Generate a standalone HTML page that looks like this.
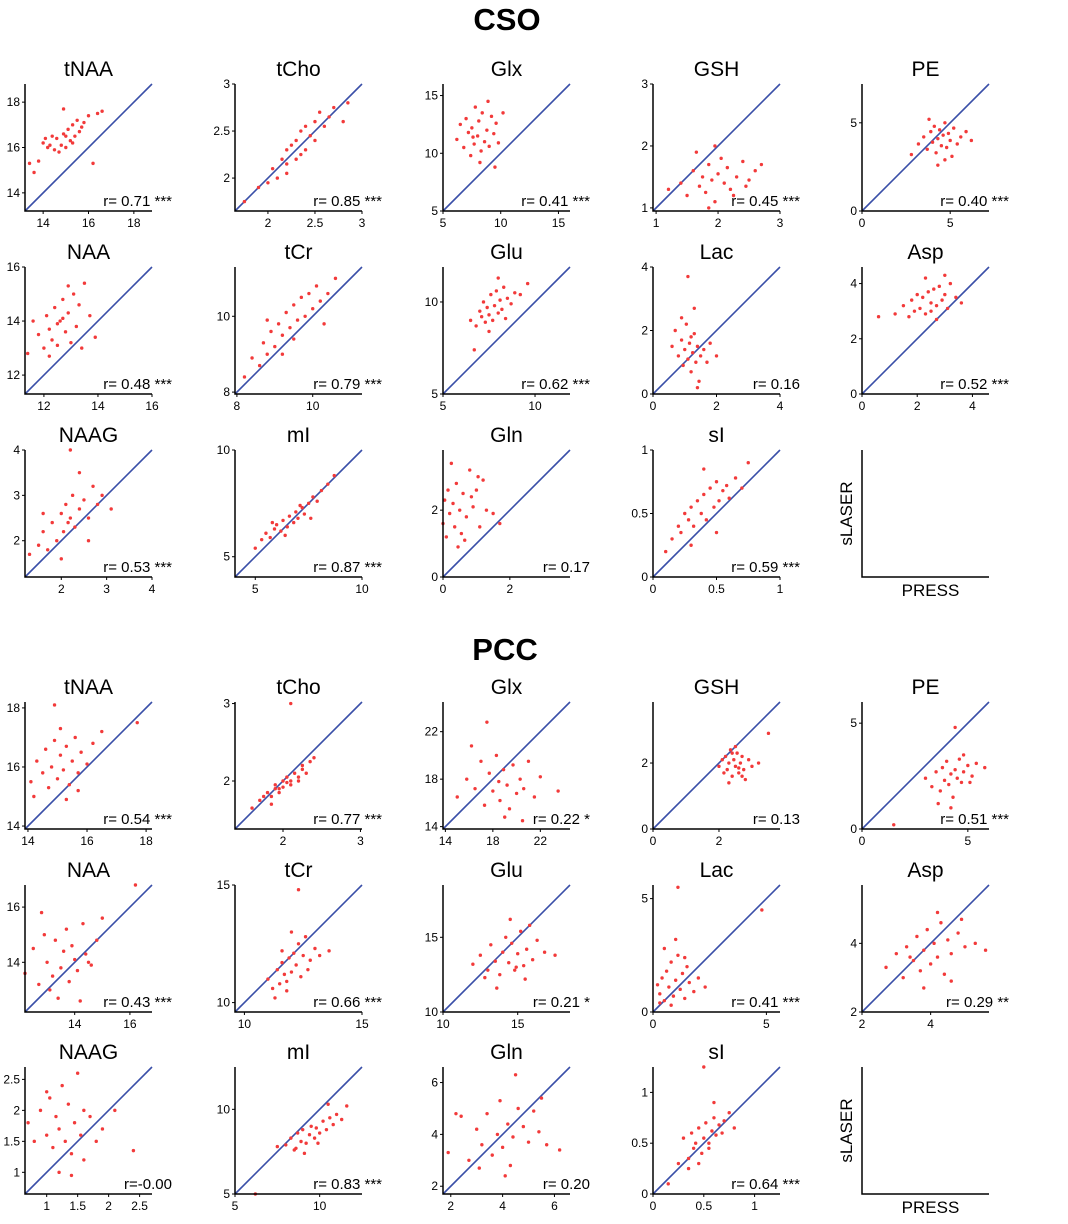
<!DOCTYPE html>
<html><head><meta charset="utf-8"><style>
html,body{margin:0;padding:0;background:#fff;}
svg{display:block;font-family:"Liberation Sans",Arial,sans-serif;}
</style></head><body>
<svg id="fig" width="1068" height="1224" viewBox="0 0 1068 1224">
<text x="507" y="30" text-anchor="middle" font-size="31" font-weight="bold">CSO</text>
<text x="505" y="660" text-anchor="middle" font-size="31" font-weight="bold">PCC</text>
</svg>
<script>
const names = ["tNAA","tCho","Glx","GSH","PE","NAA","tCr","Glu","Lac","Asp","NAAG","mI","Gln","sI",
"tNAA","tCho","Glx","GSH","PE","NAA","tCr","Glu","Lac","Asp","NAAG","mI","Gln","sI"];
const lims = [[13.2,18.8],[1.65,3],[5,16],[0.95,3],[0,7.2],[11.3,16],[7.95,11.3],[5,11.9],[0,4],[0,4.6],[1.2,4],[4.05,10],[0,3.8],[0,1],
[13.9,18.2],[1.38,3.02],[13.8,24.5],[0,3.85],[0,6],[12.2,16.8],[9.6,15],[10,18.5],[0,5.6],[2,5.7],[0.65,2.7],[5,12.5],[1.7,6.6],[0,1.25]];
const ticks = [[14,16,18],[2,2.5,3],[5,10,15],[1,2,3],[0,5],[12,14,16],[8,10],[5,10],[0,2,4],[0,2,4],[2,3,4],[5,10],[0,2],[0,0.5,1],
[14,16,18],[2,3],[14,18,22],[0,2],[0,5],[14,16],[10,15],[10,15],[0,5],[2,4],[1,1.5,2,2.5],[5,10],[2,4,6],[0,0.5,1]];
const rtexts = ["r= 0.71 ***","r= 0.85 ***","r= 0.41 ***","r= 0.45 ***","r= 0.40 ***","r= 0.48 ***","r= 0.79 ***","r= 0.62 ***","r= 0.16","r= 0.52 ***","r= 0.53 ***","r= 0.87 ***","r= 0.17","r= 0.59 ***",
"r= 0.54 ***","r= 0.77 ***","r= 0.22 *","r= 0.13","r= 0.51 ***","r= 0.43 ***","r= 0.66 ***","r= 0.21 *","r= 0.41 ***","r= 0.29 **","r=-0.00","r= 0.83 ***","r= 0.20","r= 0.64 ***"];
const xs = [
[13.4,13.8,14.0,14.2,14.4,14.5,14.6,14.8,14.9,15.0,15.1,15.2,15.3,15.4,15.5,15.6,15.8,16.0,16.2,14.7,15.0,14.3,13.6,15.7,16.4,14.9,15.3,16.6,14.1],
[1.75,1.9,2.0,2.05,2.1,2.15,2.2,2.2,2.25,2.3,2.3,2.35,2.4,2.4,2.45,2.5,2.5,2.55,2.6,2.65,2.7,2.8,2.85,2.2,2.35],
[6.2,6.5,6.8,7.0,7.2,7.4,7.5,7.7,7.8,8.0,8.1,8.3,8.4,8.6,8.8,9.0,9.2,9.4,9.6,9.8,10.2,8.2,7.6,8.9,9.5],
[1.2,1.4,1.5,1.6,1.7,1.75,1.8,1.85,1.9,1.95,2.0,2.05,2.1,2.15,2.2,2.3,2.4,2.5,2.6,2.7,1.65,1.95,2.25,2.45,1.85],
[2.8,3.2,3.5,3.7,3.9,4.0,4.1,4.2,4.3,4.4,4.5,4.6,4.7,4.8,4.9,5.0,5.2,5.4,5.6,5.9,6.2,4.3,4.7,3.8,5.1],
[11.4,11.8,12.0,12.1,12.2,12.3,12.4,12.5,12.5,12.6,12.7,12.8,12.9,13.0,13.1,13.2,13.3,13.5,13.7,13.9,12.2,12.9,11.6,13.4,12.7],
[8.2,8.4,8.6,8.7,8.8,8.9,9.0,9.1,9.2,9.3,9.4,9.5,9.6,9.7,9.8,9.9,10.0,10.1,10.2,10.4,10.6,9.2,9.5,8.8,10.3],
[6.5,6.8,7.0,7.1,7.2,7.3,7.4,7.5,7.6,7.7,7.8,7.9,8.0,8.1,8.2,8.3,8.5,8.7,8.9,9.2,9.6,7.5,8.0,6.7,8.4],
[0.6,0.7,0.8,0.9,0.95,1.0,1.05,1.1,1.15,1.2,1.25,1.3,1.35,1.4,1.45,1.5,1.6,1.7,1.8,2.0,1.1,1.3,0.9,1.4,1.2],
[1.2,1.5,1.7,1.8,1.9,2.0,2.1,2.2,2.3,2.4,2.5,2.6,2.7,2.8,2.9,3.0,3.1,3.2,3.4,3.6,2.3,2.7,0.6,2.5,3.0],
[1.3,1.5,1.6,1.7,1.8,1.9,2.0,2.05,2.1,2.15,2.2,2.25,2.3,2.4,2.5,2.6,2.7,2.8,2.9,3.1,2.0,2.4,1.6,2.6,2.2],
[5.0,5.3,5.5,5.7,5.9,6.0,6.2,6.3,6.5,6.6,6.8,6.9,7.0,7.2,7.3,7.5,7.7,7.9,8.1,8.4,8.7,6.4,7.1,5.8,7.6],
[0.0,0.05,0.1,0.15,0.2,0.3,0.35,0.4,0.5,0.55,0.6,0.7,0.8,0.9,1.0,1.1,1.2,1.3,1.5,1.7,0.25,0.45,0.65,0.85,1.05],
[0.1,0.15,0.2,0.22,0.25,0.28,0.3,0.32,0.35,0.38,0.4,0.42,0.45,0.48,0.5,0.52,0.55,0.58,0.6,0.65,0.7,0.3,0.4,0.5,0.75],
[14.1,14.3,14.5,14.6,14.7,14.8,14.9,15.0,15.1,15.2,15.3,15.4,15.5,15.6,15.7,15.8,16.0,16.2,16.5,14.9,15.3,15.7,17.7,14.2,15.1],
[1.6,1.7,1.75,1.8,1.85,1.9,1.9,1.95,2.0,2.0,2.05,2.1,2.1,2.15,2.2,2.25,2.3,2.35,1.85,2.05,2.2,2.4,2.1,1.95,2.25],
[15.0,15.8,16.5,17.0,17.3,17.7,18.0,18.3,18.6,18.9,19.2,19.4,19.7,20.0,20.3,20.6,21.0,21.5,22.0,23.5,17.5,19.0,20.5,16.2,18.5],
[2.0,2.1,2.15,2.2,2.25,2.3,2.35,2.4,2.45,2.5,2.55,2.6,2.65,2.7,2.75,2.8,2.9,3.0,3.2,2.3,2.5,2.7,2.4,2.6,3.5],
[3.0,3.3,3.5,3.7,3.8,3.9,4.0,4.1,4.2,4.3,4.4,4.5,4.6,4.7,4.8,5.0,5.2,5.4,5.8,3.6,4.2,4.8,1.5,4.4,5.1],
[12.2,12.5,12.7,12.9,13.0,13.2,13.3,13.5,13.6,13.7,13.8,13.9,14.0,14.1,14.3,14.4,14.6,14.8,15.0,13.4,14.2,12.8,16.2,13.1,14.5],
[11.0,11.2,11.4,11.5,11.6,11.7,11.8,11.9,12.0,12.1,12.2,12.3,12.4,12.5,12.6,12.8,13.0,13.2,13.6,11.3,12.0,12.7,12.3,11.8,11.6],
[12.0,12.5,13.0,13.2,13.5,13.8,14.0,14.2,14.4,14.6,14.8,15.0,15.2,15.4,15.6,15.8,16.0,16.3,16.8,13.6,14.5,15.5,17.5,12.8,14.9],
[0.2,0.3,0.4,0.5,0.6,0.7,0.8,0.9,1.0,1.1,1.2,1.3,1.4,1.5,1.6,1.8,2.0,2.3,0.5,0.8,1.1,1.4,4.8,0.3,1.0],
[2.7,3.0,3.2,3.3,3.5,3.6,3.7,3.8,3.9,4.0,4.1,4.2,4.3,4.4,4.5,4.6,4.8,5.0,5.3,5.6,3.8,4.2,4.6,3.4,4.9],
[0.7,0.8,0.9,1.0,1.05,1.1,1.15,1.2,1.25,1.3,1.35,1.4,1.45,1.5,1.55,1.6,1.7,1.8,1.9,2.1,2.4,1.2,1.4,1.0,1.6],
[7.5,8.0,8.3,8.5,8.7,8.9,9.0,9.2,9.4,9.5,9.7,9.8,10.0,10.2,10.4,10.6,10.8,11.0,11.3,11.6,9.1,9.9,10.5,8.6,6.2],
[1.9,2.4,2.7,3.0,3.2,3.4,3.6,3.8,3.9,4.0,4.2,4.3,4.4,4.6,4.8,5.0,5.2,5.4,5.7,6.2,3.1,4.5,2.2,4.1,5.5],
[0.15,0.25,0.3,0.35,0.38,0.4,0.42,0.45,0.48,0.5,0.52,0.55,0.58,0.6,0.62,0.65,0.7,0.75,0.8,0.5,0.45,0.6,0.55,0.35,0.68]];
const ys = [
[15.3,15.4,16.2,16.0,16.5,15.9,16.4,16.1,16.6,16.0,16.8,16.3,17.0,16.5,17.2,16.7,17.1,17.4,15.3,15.8,16.5,16.1,14.9,16.9,17.5,17.7,16.2,17.6,16.4],
[1.75,1.9,1.95,2.1,2.0,2.2,2.15,2.3,2.35,2.2,2.4,2.5,2.3,2.55,2.45,2.6,2.4,2.7,2.55,2.65,2.75,2.6,2.8,2.05,2.25],
[11.2,12.5,10.5,13.0,11.8,9.8,12.2,10.8,14.0,11.5,12.8,10.2,13.5,11.0,12.0,10.6,13.2,11.7,12.6,10.9,13.5,9.2,11.4,14.5,8.8],
[1.3,1.4,1.2,1.6,1.35,1.5,1.25,1.7,1.45,1.1,1.55,1.8,1.4,1.65,1.3,1.5,1.75,1.45,1.6,1.7,1.9,2.0,1.2,1.35,1.0],
[3.2,3.8,4.2,3.5,4.5,3.9,4.8,3.3,4.1,4.6,3.7,4.3,5.0,3.6,4.4,4.0,4.7,3.8,4.2,4.5,4.0,2.6,2.9,5.2,3.1],
[12.8,13.5,13.0,14.2,13.7,13.3,14.5,13.9,13.1,14.0,14.8,13.6,14.3,13.2,15.0,13.8,14.6,15.4,14.2,13.4,12.7,15.3,14.0,13.0,14.1],
[8.4,8.9,8.7,9.3,9.0,9.6,9.2,9.8,9.5,10.1,9.7,10.3,9.9,10.5,10.0,10.6,10.2,10.8,10.4,10.6,11.0,9.0,9.4,9.9,9.8],
[9.0,8.7,9.5,9.2,10.0,8.9,9.7,9.3,10.4,9.0,9.8,10.6,9.4,10.1,9.6,10.8,10.2,9.9,10.5,10.4,11.0,8.4,11.3,7.4,9.1],
[1.5,2.0,1.2,1.7,0.9,1.4,2.2,1.1,1.6,0.7,1.3,1.9,1.0,1.5,0.4,1.2,1.4,1.0,1.6,1.2,3.7,2.7,2.4,0.2,1.8],
[2.9,3.2,2.8,3.4,3.0,3.6,3.1,3.5,2.9,3.7,3.3,3.8,3.2,3.9,3.4,3.6,3.1,4.0,3.5,3.3,4.2,2.7,2.8,3.0,4.3],
[1.7,1.9,2.2,1.8,2.4,2.0,2.6,2.2,2.8,2.4,2.5,3.0,2.3,2.7,2.9,2.5,3.2,2.8,3.0,2.7,1.6,3.5,2.6,2.0,4.0],
[5.4,5.8,6.1,5.9,6.3,6.5,6.2,6.7,6.4,6.9,6.6,7.1,6.8,7.3,7.0,7.5,7.8,7.6,8.1,8.4,8.8,6.0,7.4,6.6,6.8],
[1.6,2.3,1.2,2.6,1.9,2.2,1.5,2.8,2.0,1.3,2.5,1.8,3.2,2.1,2.6,1.5,2.9,2.0,1.9,1.6,3.4,0.9,1.1,2.4,3.0],
[0.2,0.3,0.4,0.35,0.5,0.45,0.55,0.4,0.6,0.5,0.65,0.45,0.7,0.55,0.75,0.6,0.68,0.72,0.62,0.78,0.7,0.25,0.85,0.35,0.9],
[15.5,16.2,15.8,16.6,15.3,16.0,16.9,15.6,16.4,15.9,16.7,15.4,16.2,17.0,15.8,16.5,16.1,16.8,17.2,18.1,14.9,15.2,17.5,15.0,17.3],
[1.65,1.75,1.8,1.85,1.8,1.9,1.95,1.85,2.0,1.92,2.05,2.0,1.95,2.1,2.05,2.15,2.1,2.25,1.7,1.98,2.0,2.3,3.0,1.9,2.2],
[16.5,18.0,17.2,19.5,15.8,18.5,17.0,20.0,16.2,18.8,17.5,15.5,19.2,16.8,18.0,17.2,19.5,16.5,18.2,17.0,22.8,14.8,14.5,20.8,17.8],
[1.9,2.1,1.7,2.2,1.8,2.0,2.4,1.6,2.1,1.9,2.3,1.7,2.0,2.2,1.8,1.5,2.1,1.9,2.0,1.4,2.5,1.6,2.3,1.85,2.9],
[2.4,2.0,2.7,1.8,2.9,2.3,3.2,2.1,2.6,1.5,2.8,2.4,3.3,2.2,2.7,3.0,2.5,3.1,2.9,1.2,1.0,3.5,0.2,4.8,2.2],
[13.6,14.5,13.2,15.0,14.0,13.5,14.8,13.8,14.4,15.2,13.3,14.6,14.1,13.7,15.4,14.3,13.9,14.8,15.6,12.7,12.6,15.8,16.8,13.0,14.0],
[11.0,10.6,11.4,10.8,11.7,11.2,10.5,11.9,11.3,12.1,11.6,12.5,11.1,12.0,12.8,11.8,12.3,12.0,12.2,10.2,13.0,11.4,14.8,10.9,12.2],
[13.2,13.8,12.8,14.5,13.4,12.5,14.0,15.0,13.3,14.6,12.8,13.9,15.4,13.1,14.2,15.8,13.5,14.8,14.0,11.6,16.2,12.2,13.8,12.3,13.0],
[1.2,0.8,1.5,0.5,1.8,1.1,2.2,0.7,1.4,2.5,1.0,1.7,0.6,2.0,1.3,0.9,1.5,1.1,2.8,0.3,5.5,2.4,4.5,0.4,3.2],
[3.3,3.7,3.0,3.9,3.5,4.2,3.2,3.8,4.4,3.4,4.0,3.6,4.6,3.1,4.1,3.7,4.3,3.9,4.0,3.8,2.7,4.9,2.9,3.6,4.7],
[1.8,1.5,2.0,1.6,2.2,1.4,1.9,1.7,2.4,1.5,2.1,1.3,1.8,2.6,1.6,1.2,1.9,1.5,1.7,2.0,1.35,1.0,0.95,2.3,2.0],
[7.8,7.9,8.3,7.6,8.6,8.1,8.8,8.0,8.5,9.0,8.3,8.9,8.6,9.3,8.8,9.5,9.1,9.7,9.4,10.2,7.4,8.0,10.3,7.7,5.0],
[3.3,4.7,3.0,4.2,3.6,4.8,3.2,4.0,5.3,3.5,4.4,2.8,3.9,5.0,4.3,3.7,4.9,4.1,3.6,3.4,2.7,6.3,4.8,2.4,5.4],
[0.1,0.3,0.55,0.35,0.6,0.45,0.5,0.65,0.4,0.55,0.7,0.5,0.62,0.75,0.58,0.68,0.72,0.8,0.65,1.25,0.3,0.9,0.45,0.25,0.6]];

const NS = "http://www.w3.org/2000/svg";
const svg = document.getElementById('fig');
const colLeft = [25,235,443,653,862];
const rowTop = [84,267,450,702,885,1067];
const PW = 127, PH = 127;
function mk(tag, attrs, parent){
  const e = document.createElementNS(NS, tag);
  for (const k in attrs) e.setAttribute(k, attrs[k]);
  (parent||svg).appendChild(e);
  return e;
}
function fmt(v){ return String(v); }
for (let i = 0; i < names.length; i++) {
  const sec = i < 14 ? 0 : 1;
  const j = i % 14;
  const row = sec*3 + Math.floor(j/5);
  const col = j % 5;
  const L = colLeft[col], T = rowTop[row], B = T + PH, R = L + PW;
  const lo = lims[i][0], hi = lims[i][1];
  const sx = v => L + (Math.max(lo, Math.min(hi, v)) - lo) / (hi - lo) * PW;
  const sy = v => B - (Math.max(lo, Math.min(hi, v)) - lo) / (hi - lo) * PH;
  const g = mk('g', {});
  
  
  const title = mk('text', {x: L + PW/2, y: T - 8, 'text-anchor': 'middle', 'font-size': 21}, g);
  title.textContent = names[i];
  
  
  const diag = mk('line', {x1: sx(lo), y1: sy(lo), x2: sx(hi), y2: sy(hi), stroke: '#3a4fa8', 'stroke-width': 1.6}, g);
  
  
  for (let k = 0; k < xs[i].length; k++) {
    const c = mk('circle', {cx: sx(xs[i][k]), cy: sy(ys[i][k]), r: 1.7, fill: '#f23a3a'}, g);
    
    
  }
  const ax = mk('path', {d: `M${L},${T} L${L},${B} L${R},${B}`, fill: 'none', stroke: '#000', 'stroke-width': 1.5}, g);
  
  
  for (const t of ticks[i]) {
    const x = sx(t), y = sy(t);
    mk('line', {x1: x, y1: B, x2: x, y2: B + 3, stroke: '#000', 'stroke-width': 1}, g);
    mk('line', {x1: L - 3, y1: y, x2: L, y2: y, stroke: '#000', 'stroke-width': 1}, g);
    const xt = mk('text', {x: x, y: B + 16, 'text-anchor': 'middle', 'font-size': 12}, g);
    xt.textContent = fmt(t);
    
    
    const yt = mk('text', {x: L - 5, y: y + 4, 'text-anchor': 'end', 'font-size': 12}, g);
    yt.textContent = fmt(t);
    
    
  }
  const rt = mk('text', {x: R + 20, y: B - 5, 'text-anchor': 'end', 'font-size': 15}, g);
  rt.textContent = rtexts[i];
  
  
}
for (const row of [2, 5]) {
  const L = colLeft[4], T = rowTop[row], B = T + PH, R = L + PW;
  const g = mk('g', {});
  
  
  mk('path', {d: `M${L},${T} L${L},${B} L${R},${B}`, fill: 'none', stroke: '#000', 'stroke-width': 1.5}, g);
  const yl = mk('text', {x: 0, y: 0, 'text-anchor': 'middle', 'font-size': 17, transform: `translate(${L - 10},${T + PH/2}) rotate(-90)`}, g);
  yl.textContent = 'sLASER';
  
  
  const xl = mk('text', {x: L + PW/2 + 5, y: B + 19, 'text-anchor': 'middle', 'font-size': 17}, g);
  xl.textContent = 'PRESS';
  
  
}
</script>
</body></html>
